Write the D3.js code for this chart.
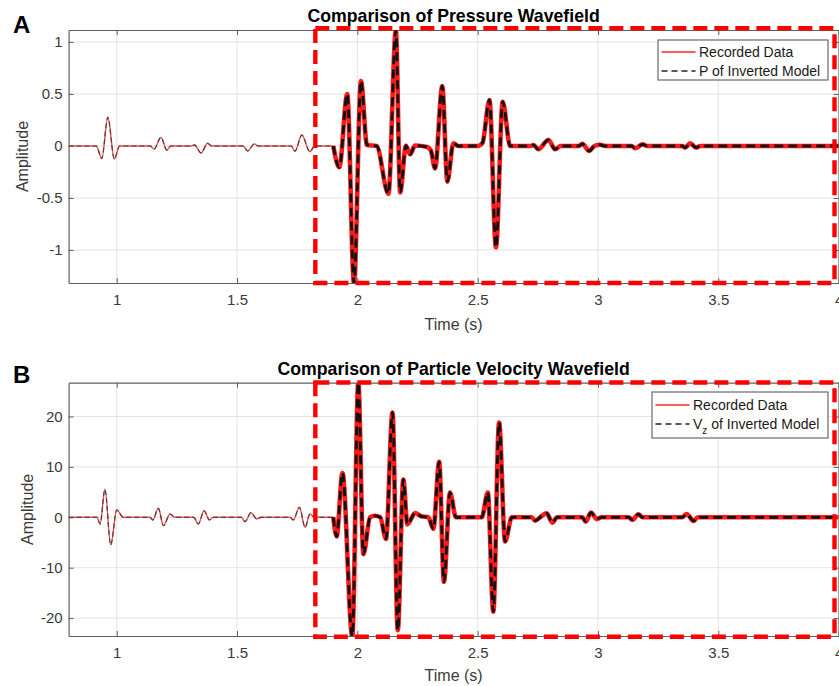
<!DOCTYPE html>
<html>
<head>
<meta charset="utf-8">
<script src="https://cdn.jsdelivr.net/npm/d3@7/dist/d3.min.js"></script>
<style>
  html, body { margin: 0; padding: 0; background: #fff; }
  svg { display: block; font-family: "Liberation Sans", Arial, Helvetica, sans-serif; }
</style>
</head>
<body>
<svg id="chart" width="839" height="686"></svg>
<script>
// ---- tick labels ----
const timeTicks = [1, 1.5, 2, 2.5, 3, 3.5, 4];
const pressureTicks = [-1, -0.5, 0, 0.5, 1];
const velocityTicks = [-20, -10, 0, 10, 20];

// ---- pressure trace (panel A) ----
const pressureTime = [
  0.800, 0.915, 0.938, 0.963, 0.990, 1.012,
  1.140, 1.155, 1.184, 1.208, 1.225,
  1.310, 1.323, 1.350, 1.378, 1.395,
  1.525, 1.544, 1.572, 1.588,
  1.725, 1.741, 1.769, 1.803, 1.822,
  1.900, 1.925, 1.958, 1.986, 2.015, 2.040, 2.080,
  2.129, 2.160, 2.178, 2.202, 2.219, 2.240, 2.290, 2.305,
  2.323, 2.353, 2.374, 2.399, 2.420,
  2.500, 2.520, 2.549, 2.576, 2.604, 2.635,
  2.720, 2.732, 2.752, 2.794, 2.822, 2.845,
  2.920, 2.935, 2.964, 2.985, 3.008, 3.030,
  3.140, 3.154, 3.186, 3.205,
  3.350, 3.362, 3.383, 3.408, 3.425, 4.000
];
const pressureRecorded = [
  0, 0, -0.12, 0.276, -0.125, 0,
  0, -0.03, 0.083, -0.04, 0,
  0, 0.01, -0.067, 0.026, 0,
  0, -0.048, 0.02, 0,
  0, -0.05, 0.105, -0.055, 0,
  0, -0.205, 0.50, -1.32, 0.625, 0.01, 0,
  -0.46, 1.11, -0.445, 0.003, -0.08, 0.005, -0.01, -0.04,
  -0.215, 0.577, -0.343, 0.026, 0,
  0, 0.03, 0.442, -0.974, 0.426, 0,
  0, 0.01, -0.03, 0.058, -0.032, 0,
  0, 0.02, -0.048, 0, 0.012, 0,
  0, -0.022, 0.016, 0,
  0, -0.016, 0.026, -0.016, 0, 0
];
const pressureInverted = [
  0, 0, -0.12, 0.276, -0.125, 0,
  0, -0.03, 0.083, -0.04, 0,
  0, 0.01, -0.067, 0.026, 0,
  0, -0.048, 0.02, 0,
  0, -0.05, 0.105, -0.055, 0,
  0, -0.205, 0.50, -1.32, 0.625, 0.01, 0,
  -0.46, 1.11, -0.445, 0.003, -0.08, 0.005, -0.01, -0.04,
  -0.215, 0.577, -0.343, 0.026, 0,
  0, 0.03, 0.442, -0.974, 0.426, 0,
  0, 0.01, -0.03, 0.058, -0.032, 0,
  0, 0.02, -0.048, 0, 0.012, 0,
  0, -0.022, 0.016, 0,
  0, -0.016, 0.026, -0.016, 0, 0
];

// ---- vertical particle velocity trace (panel B) ----
const velocityTime = [
  0.800, 0.918, 0.931, 0.951, 0.975, 1.000, 1.027,
  1.138, 1.150, 1.173, 1.194, 1.222, 1.240,
  1.320, 1.339, 1.363, 1.385, 1.400,
  1.518, 1.533, 1.558, 1.582, 1.600,
  1.720, 1.734, 1.759, 1.783, 1.803, 1.822,
  1.900, 1.914, 1.938, 1.979, 2.004, 2.025, 2.053, 2.074, 2.095,
  2.119, 2.146, 2.168, 2.191, 2.208, 2.240, 2.265, 2.295,
  2.316, 2.340, 2.360, 2.385, 2.410,
  2.517, 2.542, 2.565, 2.589, 2.614, 2.642,
  2.725, 2.739, 2.765, 2.787, 2.810, 2.830,
  2.935, 2.949, 2.971, 2.995, 3.015,
  3.128, 3.143, 3.168, 3.185,
  3.350, 3.369, 3.397, 3.415, 4.000
];
const velocityRecorded = [
  0, 0, -1.33, 5.56, -5.5, 1.45, 0,
  0, -0.53, 1.78, -1.66, 0.65, 0,
  0, -1.33, 1.3, -0.53, 0,
  0, -0.87, 0.92, -0.33, 0,
  0, -0.53, 1.98, -1.98, 0.65, 0,
  0, -3.8, 8.8, -23.6, 26.7, -7.3, 0, 0.3, 0,
  -4.3, 20.8, -22.4, 7.5, -1.4, 0.85, 0.2, 0,
  -2.3, 11.0, -12.8, 4.9, 0,
  0, 4.9, -18.7, 18.8, -4.8, 0,
  0, -0.66, 0.2, 0.8, -1.06, 0,
  0, -0.86, 0.92, -0.33, 0,
  0, -0.5, 0.6, 0,
  0, 0.65, -0.73, 0, 0
];
const velocityInverted = [
  0, 0, -1.33, 5.56, -5.5, 1.45, 0,
  0, -0.53, 1.78, -1.66, 0.65, 0,
  0, -1.33, 1.3, -0.53, 0,
  0, -0.87, 0.92, -0.33, 0,
  0, -0.53, 1.98, -1.98, 0.65, 0,
  0, -3.8, 8.8, -23.6, 26.7, -7.3, 0, 0.3, 0,
  -4.3, 20.8, -22.4, 7.5, -1.4, 0.85, 0.2, 0,
  -2.3, 11.0, -12.8, 4.9, 0,
  0, 4.9, -18.7, 18.8, -4.8, 0,
  0, -0.66, 0.2, 0.8, -1.06, 0,
  0, -0.86, 0.92, -0.33, 0,
  0, -0.5, 0.6, 0,
  0, 0.65, -0.73, 0, 0
];

// ---- layout ----
const svg = d3.select("#chart");
const plotLeft = 68.6, plotRight = 838.6;
const timeDomain = [0.8, 4];
const emphasisStart = 1.9;              // traces are drawn heavier from here on
const windowStart = 1.8254, windowEnd = 3.983; // highlighted time window

const axisColor = "#5f5f5f";
const gridColor = "#e3e3e3";
const textColor = "#3a3a3a";
const recordedColor = "#ff2626";

const panels = [
  {
    letter: "A", top: 30, bottom: 283, yDomain: [-1.317, 1.115],
    yTicks: pressureTicks, time: pressureTime,
    recorded: pressureRecorded, inverted: pressureInverted,
    title: "Comparison of Pressure Wavefield",
    modelLabel: [{ t: "P of Inverted Model" }],
    letterY: 33, titleY: 22, ylabelX: 22, xlabelY: 330,
    legend: { x: 658, y: 40, w: 170, h: 40, rows: [52, 71] },
    boxTop: 28.3, boxBottom: 283
  },
  {
    letter: "B", top: 382.7, bottom: 636, yDomain: [-23.55, 26.7],
    yTicks: velocityTicks, time: velocityTime,
    recorded: velocityRecorded, inverted: velocityInverted,
    title: "Comparison of Particle Velocity Wavefield",
    modelLabel: [{ t: "V" }, { t: "z", sub: true }, { t: " of Inverted Model" }],
    letterY: 383, titleY: 375, ylabelX: 27, xlabelY: 681,
    legend: { x: 652, y: 392, w: 176, h: 46, rows: [405, 424] },
    boxTop: 382.5, boxBottom: 636.7
  }
];

const x = d3.scaleLinear().domain(timeDomain).range([plotLeft, plotRight]);

panels.forEach((p, i) => {
  const y = d3.scaleLinear().domain(p.yDomain).range([p.bottom, p.top]);
  const g = svg.append("g");

  // grid
  g.append("g").selectAll("line").data(timeTicks).join("line")
    .attr("x1", d => x(d)).attr("x2", d => x(d))
    .attr("y1", p.top).attr("y2", p.bottom)
    .attr("stroke", gridColor).attr("stroke-width", 1);
  g.append("g").selectAll("line").data(p.yTicks).join("line")
    .attr("x1", plotLeft).attr("x2", plotRight)
    .attr("y1", d => y(d)).attr("y2", d => y(d))
    .attr("stroke", gridColor).attr("stroke-width", 1);

  // axes (ticks pointing inward, box around the plot)
  const fmt = d => String(d);
  const xAxis = g.append("g").attr("transform", `translate(0,${p.bottom})`)
    .call(d3.axisBottom(x).tickValues(timeTicks).tickFormat(fmt).tickSizeInner(-5).tickSizeOuter(0).tickPadding(11));
  const xAxisTop = g.append("g").attr("transform", `translate(0,${p.top})`)
    .call(d3.axisTop(x).tickValues(timeTicks).tickFormat("").tickSizeInner(-5).tickSizeOuter(0));
  const yAxis = g.append("g").attr("transform", `translate(${plotLeft},0)`)
    .call(d3.axisLeft(y).tickValues(p.yTicks).tickFormat(fmt).tickSizeInner(-5).tickSizeOuter(0).tickPadding(11));
  const yAxisRight = g.append("g").attr("transform", `translate(${plotRight},0)`)
    .call(d3.axisRight(y).tickValues(p.yTicks).tickFormat("").tickSizeInner(-5).tickSizeOuter(0));
  [xAxis, xAxisTop, yAxis, yAxisRight].forEach(a => {
    a.select(".domain").attr("stroke", axisColor).attr("stroke-width", 1.2);
    a.selectAll(".tick line").attr("stroke", axisColor);
    a.selectAll(".tick text").attr("fill", textColor)
      .style("font-size", "15px").style("font-family", "'Liberation Sans', Arial, sans-serif");
  });
  yAxis.selectAll(".tick text").attr("x", -6);
  xAxis.selectAll(".tick text").attr("y", 11);

  // traces
  const clipId = "clip" + i;
  svg.append("clipPath").attr("id", clipId).append("rect")
    .attr("x", plotLeft).attr("y", p.top)
    .attr("width", plotRight - plotLeft).attr("height", p.bottom - p.top);

  const pts = (vals) => p.time.map((t, k) => [t, vals[k]]);
  const line = d3.line().x(d => x(d[0])).y(d => y(d[1])).curve(d3.curveMonotoneX);
  const early = arr => arr.filter(d => d[0] <= emphasisStart);
  const late = arr => arr.filter(d => d[0] >= emphasisStart);
  const rec = pts(p.recorded), inv = pts(p.inverted);
  const traces = g.append("g").attr("clip-path", `url(#${clipId})`);

  traces.append("path").attr("d", line(early(rec)))
    .attr("fill", "none").attr("stroke", "#ff4a4a").attr("stroke-width", 1.4);
  traces.append("path").attr("d", line(early(inv)))
    .attr("fill", "none").attr("stroke", "#444").attr("stroke-width", 1.2)
    .attr("stroke-dasharray", "5,3");
  traces.append("path").attr("d", line(late(rec)))
    .attr("fill", "none").attr("stroke", "#ff1a1a").attr("stroke-width", 4.6)
    .attr("stroke-linejoin", "round");
  traces.append("path").attr("d", line(late(inv)))
    .attr("fill", "none").attr("stroke", "#111").attr("stroke-width", 2.8)
    .attr("stroke-dasharray", "9,5");

  // legend
  const L = p.legend;
  const lg = g.append("g");
  lg.append("rect").attr("x", L.x).attr("y", L.y).attr("width", L.w).attr("height", L.h)
    .attr("fill", "#fff").attr("stroke", "#6a6a6a").attr("stroke-width", 1.2);
  const sx0 = L.x + 3.5, sx1 = L.x + 37.5, tx = L.x + 41;
  lg.append("line").attr("x1", sx0).attr("x2", sx1).attr("y1", L.rows[0]).attr("y2", L.rows[0])
    .attr("stroke", recordedColor).attr("stroke-width", 1.3);
  lg.append("line").attr("x1", sx0).attr("x2", sx1).attr("y1", L.rows[1]).attr("y2", L.rows[1])
    .attr("stroke", "#222").attr("stroke-width", 1.3).attr("stroke-dasharray", "6,4");
  lg.append("text").attr("x", tx).attr("y", L.rows[0] + 5).attr("fill", "#1a1a1a")
    .style("font-size", "14px").text("Recorded Data");
  const t2 = lg.append("text").attr("x", tx).attr("y", L.rows[1] + 5).attr("fill", "#1a1a1a")
    .style("font-size", "14px");
  p.modelLabel.forEach(part => {
    const s = t2.append("tspan").text(part.t);
    if (part.sub) s.attr("dy", 5).style("font-size", "10px");
    else if (s.node().previousSibling) s.attr("dy", -5);
  });

  // highlighted time window
  g.append("rect")
    .attr("x", x(windowStart)).attr("y", p.boxTop)
    .attr("width", x(windowEnd) - x(windowStart)).attr("height", p.boxBottom - p.boxTop)
    .attr("fill", "none").attr("stroke", "#ff0000").attr("stroke-width", 4.4)
    .attr("stroke-dasharray", "14,7");

  // labels
  g.append("text").attr("x", (plotLeft + plotRight) / 2).attr("y", p.titleY)
    .attr("text-anchor", "middle").attr("fill", "#000")
    .style("font-size", "17.7px").style("font-weight", "bold").text(p.title);
  g.append("text").attr("x", (plotLeft + plotRight) / 2).attr("y", p.xlabelY)
    .attr("text-anchor", "middle").attr("fill", textColor)
    .style("font-size", "16px").text("Time (s)");
  g.append("text")
    .attr("transform", `translate(${p.ylabelX},${(p.top + p.bottom) / 2}) rotate(-90)`)
    .attr("text-anchor", "middle").attr("dominant-baseline", "central").attr("fill", textColor)
    .style("font-size", "16px").text("Amplitude");
  g.append("text").attr("x", 13).attr("y", p.letterY).attr("fill", "#000")
    .style("font-size", "24px").style("font-weight", "bold").text(p.letter);
});
</script>
</body>
</html>
